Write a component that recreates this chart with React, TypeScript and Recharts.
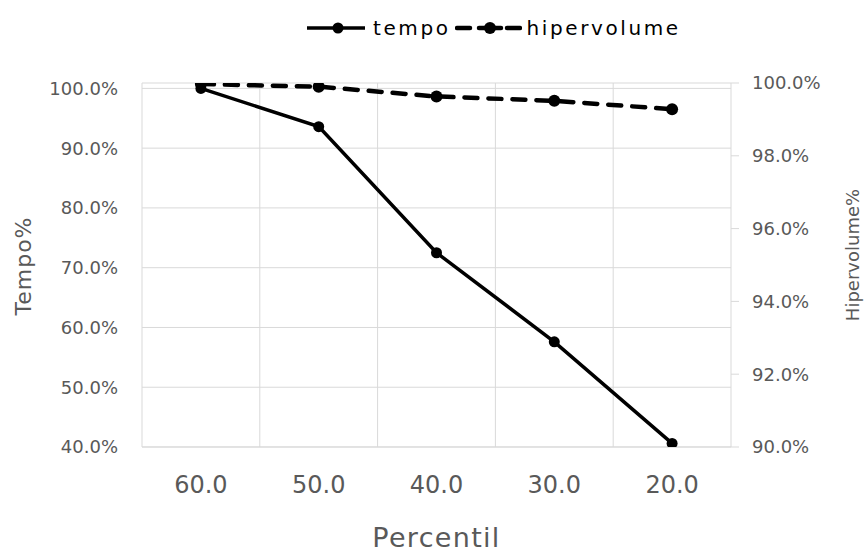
import React from 'react';
import { LineChart, Line, XAxis, YAxis, CartesianGrid, Legend } from 'recharts';

// valores
const percentis = ['60.0', '50.0', '40.0', '30.0', '20.0'];
const tempo = [100, 93.6, 72.5, 57.6, 40.6];
const hipervolume = [99.97, 99.9, 99.63, 99.51, 99.28];
const tempoTicks = [40, 50, 60, 70, 80, 90, 100];
const hipervolumeTicks = [90, 92, 94, 96, 98, 100];

const data = percentis.map((p, i) => ({
  percentil: p,
  tempo: tempo[i],
  hipervolume: hipervolume[i],
}));

const FONT = '"DejaVu Sans", sans-serif';
const GRAY = '#595959';
const GRID = '#d9d9d9';

const fmt = (v: number) => v.toFixed(1) + '%';

const LegendContent = () => (
  <div
    style={{
      display: 'flex',
      alignItems: 'center',
      fontFamily: FONT,
      fontSize: 20,
      letterSpacing: 2.6,
      color: '#000',
      lineHeight: '24px',
    }}
  >
    <svg width={58} height={14}>
      <line x1={0} y1={7} x2={58} y2={7} stroke="#000" strokeWidth={3.5} />
      <circle cx={31} cy={7} r={5.5} fill="#000" />
    </svg>
    <span style={{ marginLeft: 8 }}>tempo</span>
    <svg width={67} height={14} style={{ marginLeft: 4 }}>
      <line x1={2} y1={7} x2={15} y2={7} stroke="#000" strokeWidth={4.5} strokeLinecap="round" />
      <circle cx={35} cy={7} r={6} fill="#000" />
      <line x1={24} y1={7} x2={46} y2={7} stroke="#000" strokeWidth={4.5} strokeLinecap="round" />
      <line x1={52} y1={7} x2={65} y2={7} stroke="#000" strokeWidth={4.5} strokeLinecap="round" />
    </svg>
    <span style={{ marginLeft: 5 }}>hipervolume</span>
  </div>
);

const TempoLabel = ({ viewBox }: any) => {
  const cx = viewBox.x + 13;
  const cy = viewBox.y + viewBox.height / 2 + 1;
  return (
    <text
      x={cx}
      y={cy}
      transform={`rotate(-90 ${cx} ${cy})`}
      textAnchor="middle"
      dominantBaseline="central"
      fontFamily={FONT}
      fontSize={22}
      letterSpacing={1}
      fill={GRAY}
    >
      Tempo%
    </text>
  );
};

const HiperLabel = ({ viewBox }: any) => {
  const cx = viewBox.x + 121;
  const cy = viewBox.y + viewBox.height / 2 - 10;
  return (
    <text
      x={cx}
      y={cy}
      transform={`rotate(-90 ${cx} ${cy})`}
      textAnchor="middle"
      dominantBaseline="central"
      fontFamily={FONT}
      fontSize={18}
      fill={GRAY}
    >
      Hipervolume%
    </text>
  );
};

const PercentilLabel = ({ viewBox }: any) => (
  <text
    x={viewBox.x + viewBox.width / 2}
    y={viewBox.y + 100}
    textAnchor="middle"
    fontFamily={FONT}
    fontSize={27}
    letterSpacing={1.3}
    fill={GRAY}
  >
    Percentil
  </text>
);

export default function App() {
  return (
    <div style={{ position: 'absolute', left: 0, top: 0, background: '#fff' }}>
      <LineChart
        width={864}
        height={552}
        data={data}
        margin={{ top: 83, right: 0, bottom: 0, left: 10 }}
      >
        <CartesianGrid
          yAxisId="left"
          stroke={GRID}
          verticalCoordinatesGenerator={({ offset }: any) =>
            percentis.slice(1).map((_, i) => offset.left + (offset.width * (i + 1)) / percentis.length)
          }
        />
        <XAxis
          dataKey="percentil"
          scale="band"
          interval={0}
          height={105}
          axisLine={{ stroke: GRID }}
          tickLine={false}
          tickSize={0}
          tickMargin={29}
          tick={{ fill: GRAY, fontSize: 24, fontFamily: FONT }}
          label={{ content: PercentilLabel }}
        />
        <YAxis
          yAxisId="left"
          domain={[40, 100.9]}
          allowDataOverflow
          ticks={tempoTicks}
          tickFormatter={fmt}
          width={132}
          axisLine={{ stroke: GRID }}
          tickLine={false}
          tickSize={0}
          tickMargin={24}
          tick={{ fill: GRAY, fontSize: 18, fontFamily: FONT }}
          label={{ content: TempoLabel }}
        />
        <YAxis
          yAxisId="right"
          orientation="right"
          domain={[90, 100]}
          allowDataOverflow
          ticks={hipervolumeTicks}
          tickFormatter={fmt}
          width={133}
          axisLine={{ stroke: GRID }}
          tickLine={{ stroke: GRID }}
          tickSize={8}
          tickMargin={13}
          tick={{ fill: GRAY, fontSize: 18, fontFamily: FONT }}
          label={{ content: HiperLabel }}
        />
        <Legend
          layout="horizontal"
          verticalAlign="middle"
          align="center"
          wrapperStyle={{ top: 16, left: 307, width: 'auto' }}
          content={LegendContent}
        />
        <Line
          yAxisId="right"
          dataKey="hipervolume"
          stroke="#000"
          strokeWidth={4.5}
          strokeDasharray="13 11"
          strokeLinecap="round"
          dot={{ r: 6, fill: '#000', stroke: 'none' }}
          activeDot={false}
          isAnimationActive={false}
        />
        <Line
          yAxisId="left"
          dataKey="tempo"
          stroke="#000"
          strokeWidth={3.5}
          dot={{ r: 5.5, fill: '#000', stroke: 'none' }}
          activeDot={false}
          isAnimationActive={false}
        />
      </LineChart>
    </div>
  );
}
